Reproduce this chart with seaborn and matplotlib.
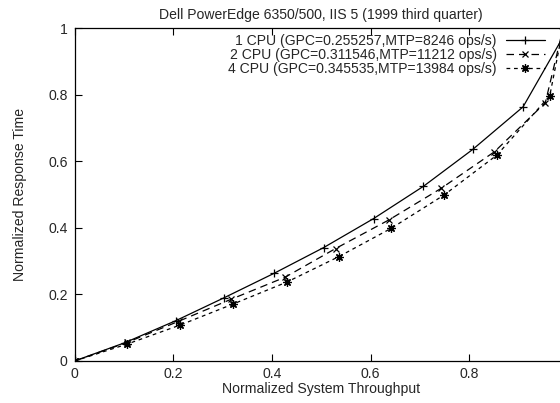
import matplotlib
matplotlib.use("Agg")
import matplotlib.pyplot as plt
import pandas as pd
import seaborn as sns
from matplotlib.ticker import FuncFormatter, MultipleLocator

# values
x_1cpu = [0, 0.102, 0.205, 0.303, 0.405, 0.505, 0.606, 0.707, 0.807, 0.909, 1.0]
y_1cpu = [0, 0.055, 0.121, 0.190, 0.264, 0.341, 0.428, 0.525, 0.636, 0.764, 1.0]

x_2cpu = [0, 0.107, 0.212, 0.318, 0.427, 0.529, 0.637, 0.743, 0.851, 0.954, 0.99]
y_2cpu = [0, 0.056, 0.120, 0.186, 0.252, 0.338, 0.424, 0.519, 0.629, 0.776, 1.0]

x_4cpu = [0, 0.107, 0.214, 0.321, 0.430, 0.536, 0.642, 0.749, 0.856, 0.963, 0.99]
y_4cpu = [0, 0.051, 0.108, 0.171, 0.237, 0.314, 0.399, 0.499, 0.619, 0.797, 1.0]

x_ticks = [0, 0.2, 0.4, 0.6, 0.8]

labels = [
    "1 CPU (GPC=0.255257,MTP=8246 ops/s)",
    "2 CPU (GPC=0.311546,MTP=11212 ops/s)",
    "4 CPU (GPC=0.345535,MTP=13984 ops/s)",
]

sns.set_style("ticks")
plt.rcParams["font.family"] = ["Liberation Sans", "DejaVu Sans"]
fs = 10.1

fig = plt.figure(figsize=(5.6, 4.03), dpi=100)
ax = fig.add_axes([74.5 / 560, 42 / 403, 493.5 / 560, 332.7 / 403])

series = [
    (x_1cpu, y_1cpu, "-", "+", 6),
    (x_2cpu, y_2cpu, (0, (6, 4)), "x", 5),
    (x_4cpu, y_4cpu, (0, (3, 3)), (8, 2, 0), 6),
]
for (xs, ys, ls, mk, ms), lab in zip(series, labels):
    df = pd.DataFrame({"x": xs, "y": ys})
    sns.lineplot(data=df, x="x", y="y", ax=ax, color="black", linestyle=ls,
                 linewidth=0.9, marker=mk, markersize=ms, markeredgewidth=0.9,
                 markeredgecolor="black", label=lab, sort=False, estimator=None)

ax.set_xlim(0, 1)
ax.set_ylim(0, 1)
ax.set_xticks(x_ticks)
ax.yaxis.set_major_locator(MultipleLocator(0.2))
fmt = FuncFormatter(lambda v, p: "%g" % round(v, 2))
ax.xaxis.set_major_formatter(fmt)
ax.yaxis.set_major_formatter(fmt)
ax.tick_params(direction="in", length=5, width=0.8, top=True, right=True,
               labelsize=fs, color="black")
ax.tick_params(axis="x", pad=4)
ax.tick_params(axis="y", pad=5)
for s in ax.spines.values():
    s.set_linewidth(0.9)
    s.set_color("black")

ax.set_title("Dell PowerEdge 6350/500, IIS 5 (1999 third quarter)", fontsize=fs, pad=7)
ax.set_xlabel("Normalized System Throughput", fontsize=fs, labelpad=1)
ax.set_ylabel("Normalized Response Time", fontsize=fs, labelpad=15)

ax.legend(loc="upper right", bbox_to_anchor=(545 / 560, (403 - 34) / 403),
          bbox_transform=fig.transFigure, frameon=False, markerfirst=False,
          handlelength=2.8, handletextpad=0.65, labelspacing=0.0,
          borderaxespad=0, borderpad=0, fontsize=fs)

fig.savefig("out.png", dpi=100)
